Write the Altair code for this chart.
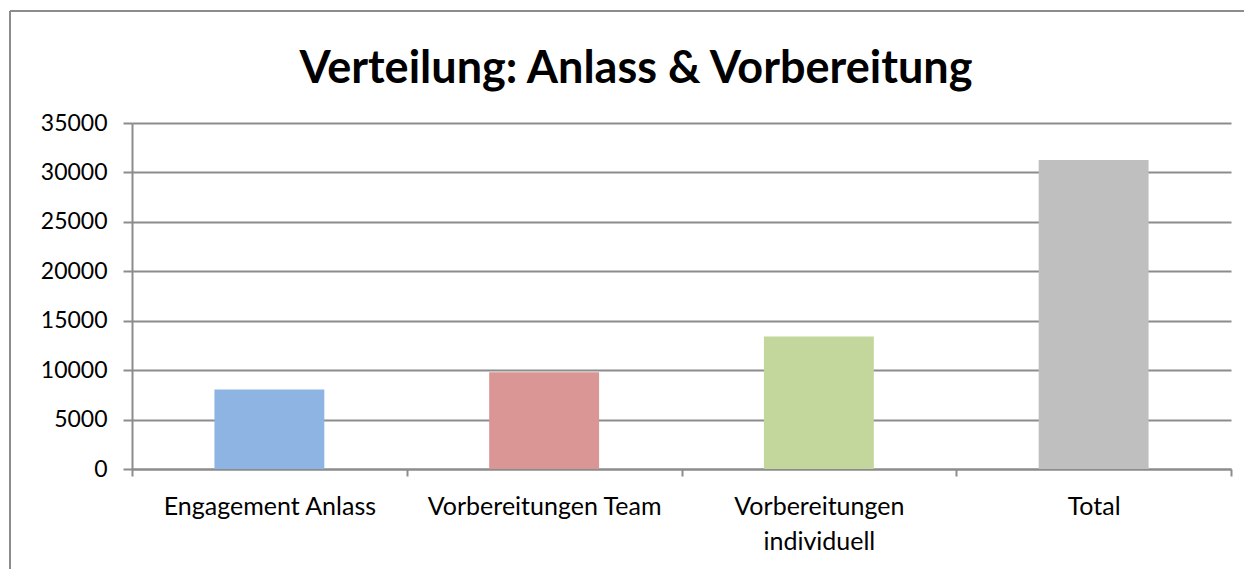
import altair as alt
import pandas as pd

categories = ["Engagement Anlass", "Vorbereitungen Team", "Vorbereitungen individuell", "Total"]
values = [8050, 9780, 13400, 31250]
colors = ["#8EB4E3", "#D99694", "#C3D69B", "#BFBFBF"]
y_ticks = [0, 5000, 10000, 15000, 20000, 25000, 30000, 35000]
title_text = "Verteilung: Anlass & Vorbereitung"

df = pd.DataFrame({"Kategorie": categories, "Stunden": values})

FONT = "Lato"
LINE = "#8c8c8c"

bars = alt.Chart(df).mark_bar(width={"band": 0.4}).encode(
    x=alt.X(
        "Kategorie:N",
        sort=categories,
        scale=alt.Scale(paddingInner=0, paddingOuter=0),
        axis=alt.Axis(
            title=None,
            labelAngle=0,
            labelFont=FONT,
            labelFontSize=25,
            labelColor="#000000",
            labelPadding=18,
            labelLineHeight=35,
            labelLimit=0,
            labelExpr="datum.label == 'Vorbereitungen individuell' ? ['Vorbereitungen', 'individuell'] : datum.label",
            tickBand="extent",
            tickSize=7,
            tickColor=LINE,
            tickWidth=2,
            domainColor=LINE,
            domainWidth=2,
            grid=False,
        ),
    ),
    y=alt.Y(
        "Stunden:Q",
        scale=alt.Scale(domain=[0, 35000], nice=False),
        axis=alt.Axis(
            title=None,
            values=y_ticks,
            format="d",
            labelFont=FONT,
            labelFontSize=23,
            labelColor="#000000",
            labelPadding=16,
            tickSize=9,
            tickColor=LINE,
            tickWidth=2,
            domainColor=LINE,
            domainWidth=2,
            grid=True,
            gridColor=LINE,
            gridWidth=2,
        ),
    ),
    color=alt.Color("Kategorie:N", scale=alt.Scale(domain=categories, range=colors), legend=None),
)

one = alt.Data(values=[{}])

border_left = alt.Chart(one).mark_rule(color=LINE, strokeWidth=2).encode(
    x=alt.value(-122), y=alt.value(-112), y2=alt.value(460)
)
border_top = alt.Chart(one).mark_rule(color=LINE, strokeWidth=2).encode(
    x=alt.value(-122), x2=alt.value(1130), y=alt.value(-112)
)
title = alt.Chart(one).mark_text(
    text=title_text, font=FONT, fontSize=45, fontWeight="bold", color="#000000",
    align="center", baseline="alphabetic"
).encode(x=alt.value(504), y=alt.value(-40))

chart = alt.layer(border_left, border_top, bars, title).properties(
    width=1099,
    height=346,
    padding={"left": 124, "top": 115, "right": 13, "bottom": 100},
    autosize=alt.AutoSizeParams(type="none"),
).configure_view(stroke=None)

chart.save("out.html", embed_options={"renderer": "svg", "actions": False})
